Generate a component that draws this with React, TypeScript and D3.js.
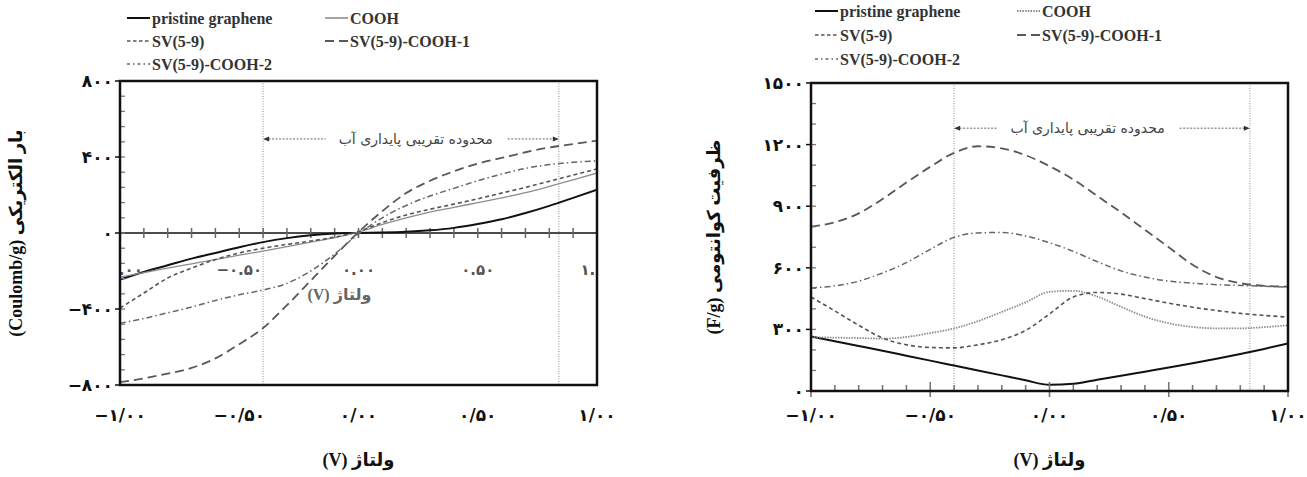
import React from 'react';
import * as d3 from 'd3';

// ---------- data ----------
const VOLTS = [-1, -0.9, -0.8, -0.7, -0.6, -0.5, -0.4, -0.3, -0.2, -0.1, 0, 0.1, 0.2, 0.3, 0.4, 0.5, 0.6, 0.7, 0.8, 0.9, 1];

const SERIES_NAMES = ['pristine graphene', 'COOH', 'SV(5-9)', 'SV(5-9)-COOH-1', 'SV(5-9)-COOH-2'];

// charge (Coulomb/g)
const Q_PRISTINE = [-245, -205, -170, -135, -105, -75, -48, -27, -12, -3, 0, 2, 6, 14, 27, 47, 72, 105, 143, 185, 228];
const Q_COOH = [-232, -208, -185, -162, -140, -117, -95, -72, -48, -24, 5, 45, 80, 110, 135, 160, 185, 212, 245, 280, 316];
const Q_SV = [-395, -316, -237, -185, -140, -105, -80, -60, -42, -22, 8, 55, 95, 125, 152, 180, 210, 240, 272, 305, 337];
const Q_SV_COOH1 = [-785, -765, -740, -710, -660, -585, -500, -380, -250, -120, 5, 115, 210, 275, 325, 365, 395, 425, 450, 468, 486];
const Q_SV_COOH2 = [-475, -450, -420, -390, -355, -325, -300, -265, -200, -110, -5, 80, 145, 195, 235, 275, 310, 340, 360, 372, 380];

// quantum capacitance (F/g)
const C_PRISTINE = [265, 242, 219, 196, 172, 148, 124, 100, 76, 52, 30, 35, 55, 74, 94, 114, 135, 157, 180, 205, 232];
const C_COOH = [262, 260, 258, 255, 263, 282, 305, 340, 385, 432, 483, 488, 460, 410, 362, 330, 312, 305, 305, 311, 320];
const C_SV = [458, 390, 320, 258, 225, 212, 210, 225, 250, 295, 375, 458, 480, 472, 450, 428, 408, 392, 378, 368, 360];
const C_SV_COOH1 = [800, 822, 865, 935, 1015, 1092, 1160, 1192, 1182, 1148, 1095, 1030, 950, 870, 785, 700, 615, 555, 525, 512, 508];
const C_SV_COOH2 = [502, 512, 535, 575, 625, 690, 748, 770, 772, 755, 722, 680, 630, 585, 555, 535, 525, 518, 514, 510, 506];

const WINDOW_V = [-0.4, 0.84];
const X_TICKS = [-1, -0.5, 0, 0.5, 1];
const X_TICK_LABELS = ['−۱/۰۰', '−۰/۵۰', '۰/۰۰', '۰/۵۰', '۱/۰۰'];
const X_INNER_LABELS = ['−۱.۰۰', '−۰.۵۰', '۰.۰۰', '۰.۵۰', '۱.۰۰'];
const Q_TICKS = [800, 400, 0, -400, -800];
const Q_TICK_LABELS = ['۸۰۰', '۴۰۰', '۰', '−۴۰۰', '−۸۰۰'];
const Q_MINOR = [-800, -720, -640, -560, -480, -400, -320, -240, -160, -80, 0, 80, 160, 240, 320, 400, 480, 560, 640, 720, 800];
const C_TICKS = [1500, 1200, 900, 600, 300, 0];
const C_TICK_LABELS = ['۱۵۰۰', '۱۲۰۰', '۹۰۰', '۶۰۰', '۳۰۰', '۰'];
const C_MINOR = [0, 100, 200, 300, 400, 500, 600, 700, 800, 900, 1000, 1100, 1200, 1300, 1400, 1500];

const ANNOT_TEXT = 'محدوده تقریبی پایداری آب';
const X_TITLE = '(V) ولتاژ';
const Y_TITLE_LEFT = '(Coulomb/g) بار الکتریکی';
const Y_TITLE_RIGHT = '(F/g) ظرفیت کوانتومی';

// ---------- styles ----------
const FA = "'DejaVu Sans', sans-serif";
const SERIF = "'Liberation Serif', 'DejaVu Sans', serif";

const STYLE_LEFT = [
  { stroke: '#111', width: 2, dash: undefined as string | undefined },
  { stroke: '#8c8c8c', width: 1.3, dash: undefined },
  { stroke: '#555', width: 1.6, dash: '4,3' },
  { stroke: '#585858', width: 1.8, dash: '9,5' },
  { stroke: '#666', width: 1.5, dash: '6,3,1.5,3' },
];
const STYLE_RIGHT = [
  { stroke: '#111', width: 2, dash: undefined as string | undefined },
  { stroke: '#8c8c8c', width: 1.8, dash: '1.5,1.2' },
  { stroke: '#555', width: 1.6, dash: '4,3' },
  { stroke: '#585858', width: 1.8, dash: '9,5' },
  { stroke: '#666', width: 1.5, dash: '6,3,1.5,3' },
];

type PanelCfg = {
  id: string;
  x: number; y: number; w: number; h: number;
  yDomain: [number, number];
  yTicks: number[]; yTickLabels: string[]; yMinor: number[];
  series: number[][];
  styles: typeof STYLE_LEFT;
  zeroAxis: boolean;
  annotY: number; annotCenterV: number;
  legend: { x1: number; x2: number; rows: number[] };
  yTitle: string; yTitleX: number;
};

function Panel({ cfg }: { cfg: PanelCfg }) {
  const xs = d3.scaleLinear().domain([-1, 1]).range([cfg.x, cfg.x + cfg.w]);
  const ys = d3.scaleLinear().domain(cfg.yDomain).range([cfg.y + cfg.h, cfg.y]);
  const line = d3.line<[number, number]>().x(d => xs(d[0])).y(d => ys(d[1])).curve(d3.curveMonotoneX);
  const bottom = cfg.y + cfg.h;
  const zeroY = ys(0);
  const ay = ys(cfg.annotY);
  const tc = xs(cfg.annotCenterV);
  const halfT = 84;
  const legendPos = [
    [cfg.legend.x1, cfg.legend.rows[0]],
    [cfg.legend.x2, cfg.legend.rows[0]],
    [cfg.legend.x1, cfg.legend.rows[1]],
    [cfg.legend.x2, cfg.legend.rows[1]],
    [cfg.legend.x1, cfg.legend.rows[2]],
  ];
  return (
    <g>
      <defs>
        <clipPath id={`clip-${cfg.id}`}>
          <rect x={cfg.x} y={cfg.y} width={cfg.w} height={cfg.h} />
        </clipPath>
      </defs>
      {/* legend */}
      {SERIES_NAMES.map((name, i) => {
        const [lx, ly] = legendPos[i];
        const st = cfg.styles[i];
        return (
          <g key={name}>
            <line x1={lx} x2={lx + 23} y1={ly} y2={ly} stroke={st.stroke} strokeWidth={Math.max(st.width, 1.6)} strokeDasharray={st.dash ? (i === 4 ? '3,3,1.5,3' : i === 2 ? '3.5,2.5' : st.dash) : undefined} />
            <text x={lx + 25} y={ly} dy="0.35em" fontFamily={SERIF} fontWeight="bold" fontSize={16} fill="#333">{name}</text>
          </g>
        );
      })}
      {/* water stability window */}
      {WINDOW_V.map(v => (
        <line key={v} x1={xs(v)} x2={xs(v)} y1={cfg.y} y2={bottom} stroke="#b5b5b5" strokeWidth={1.5} strokeDasharray="1,1.5" />
      ))}
      {/* annotation */}
      <line x1={xs(WINDOW_V[0]) + 2} x2={tc - halfT - 6} y1={ay} y2={ay} stroke="#666" strokeWidth={1} strokeDasharray="2,1.5" />
      <path d={`M${xs(WINDOW_V[0])},${ay} l6,-2.5 l0,5 z`} fill="#333" />
      <line x1={tc + halfT + 8} x2={xs(WINDOW_V[1]) - 2} y1={ay} y2={ay} stroke="#666" strokeWidth={1} strokeDasharray="2,1.5" />
      <path d={`M${xs(WINDOW_V[1])},${ay} l-6,-2.5 l0,5 z`} fill="#333" />
      <text x={tc} y={ay} dy="0.35em" textAnchor="middle" fontFamily={FA} fontSize={14} fill="#444">{ANNOT_TEXT}</text>
      {/* zero axis with inner labels (left panel) */}
      {cfg.zeroAxis && (
        <g>
          <g clipPath={`url(#clip-${cfg.id})`}>
            {X_TICKS.map((v, i) => (
              <text key={v} x={xs(v)} y={zeroY + 37} dy="0.35em" textAnchor="middle" fontFamily={FA} fontWeight="bold" fontSize={15} fill="#555">{X_INNER_LABELS[i]}</text>
            ))}
          </g>
          <text x={xs(-0.08)} y={zeroY + 61} dy="0.35em" textAnchor="middle" fontFamily={SERIF} fontWeight="bold" fontSize={16} fill="#666">{X_TITLE}</text>
          <line x1={cfg.x} x2={cfg.x + cfg.w} y1={zeroY} y2={zeroY} stroke="#111" strokeWidth={1.5} />
          {VOLTS.map(v => (
            <line key={v} x1={xs(v)} x2={xs(v)} y1={zeroY - 5} y2={zeroY + 5} stroke="#666" strokeWidth={1.5} />
          ))}
        </g>
      )}
      {/* curves */}
      <g clipPath={`url(#clip-${cfg.id})`}>
        {cfg.series.map((vals, i) => {
          const st = cfg.styles[i];
          const pts = VOLTS.map((v, k) => [v, vals[k]] as [number, number]);
          return <path key={i} d={line(pts) || ''} fill="none" stroke={st.stroke} strokeWidth={st.width} strokeDasharray={st.dash} />;
        })}
      </g>
      {/* bottom ticks (right panel) */}
      {!cfg.zeroAxis && VOLTS.map(v => {
        const major = Math.abs(v * 2 - Math.round(v * 2)) < 1e-6;
        return <line key={v} x1={xs(v)} x2={xs(v)} y1={bottom - (major ? 9 : 6)} y2={bottom + (major ? 6 : 1)} stroke="#777" strokeWidth={1.6} />;
      })}
      {/* y minor ticks */}
      {cfg.yMinor.map(v => (
        <line key={v} x1={cfg.x} x2={cfg.x + 5} y1={ys(v)} y2={ys(v)} stroke="#777" strokeWidth={1.3} />
      ))}
      {cfg.yTicks.map(v => (
        <line key={v} x1={cfg.x - 5} x2={cfg.x} y1={ys(v)} y2={ys(v)} stroke="#111" strokeWidth={1.5} />
      ))}
      {/* frame */}
      <rect x={cfg.x} y={cfg.y} width={cfg.w} height={cfg.h} fill="none" stroke="#111" strokeWidth={2.5} />
      {/* y tick labels */}
      {cfg.yTicks.map((v, i) => (
        <text key={v} x={cfg.x - 7} y={ys(v)} dy="0.35em" textAnchor="end" fontFamily={FA} fontWeight="bold" fontSize={17} fill="#111">{cfg.yTickLabels[i]}</text>
      ))}
      {/* x tick labels */}
      {X_TICKS.map((v, i) => (
        <text key={v} x={xs(v)} y={415} dy="0.35em" textAnchor="middle" fontFamily={FA} fontWeight="bold" fontSize={17} fill="#111">{X_TICK_LABELS[i]}</text>
      ))}
      {/* axis titles */}
      <text x={xs(0)} y={460} dy="0.35em" textAnchor="middle" fontFamily={SERIF} fontWeight="bold" fontSize={18} fill="#111">{X_TITLE}</text>
      <text transform={`translate(${cfg.yTitleX},${cfg.y + cfg.h / 2}) rotate(-90)`} dy="0.35em" textAnchor="middle" fontFamily={SERIF} fontWeight="bold" fontSize={18} fill="#111">{cfg.yTitle}</text>
    </g>
  );
}

const LEFT: PanelCfg = {
  id: 'q', x: 120, y: 81, w: 477, h: 304,
  yDomain: [-800, 800], yTicks: Q_TICKS, yTickLabels: Q_TICK_LABELS, yMinor: Q_MINOR,
  series: [Q_PRISTINE, Q_COOH, Q_SV, Q_SV_COOH1, Q_SV_COOH2],
  styles: STYLE_LEFT, zeroAxis: true,
  annotY: 495, annotCenterV: 0.24,
  legend: { x1: 127, x2: 325, rows: [18, 41, 64] },
  yTitle: Y_TITLE_LEFT, yTitleX: 16,
};
const RIGHT: PanelCfg = {
  id: 'c', x: 811, y: 83, w: 477, h: 308,
  yDomain: [0, 1500], yTicks: C_TICKS, yTickLabels: C_TICK_LABELS, yMinor: C_MINOR,
  series: [C_PRISTINE, C_COOH, C_SV, C_SV_COOH1, C_SV_COOH2],
  styles: STYLE_RIGHT, zeroAxis: false,
  annotY: 1280, annotCenterV: 0.16,
  legend: { x1: 815, x2: 1017, rows: [11, 35, 59] },
  yTitle: Y_TITLE_RIGHT, yTitleX: 714,
};

export default function App() {
  return (
    <svg width={1307} height={477} style={{ position: 'absolute', left: 0, top: 0, background: '#fff' }} direction="ltr">
      <rect x={0} y={0} width={1307} height={477} fill="#fff" />
      <Panel cfg={LEFT} />
      <Panel cfg={RIGHT} />
    </svg>
  );
}
